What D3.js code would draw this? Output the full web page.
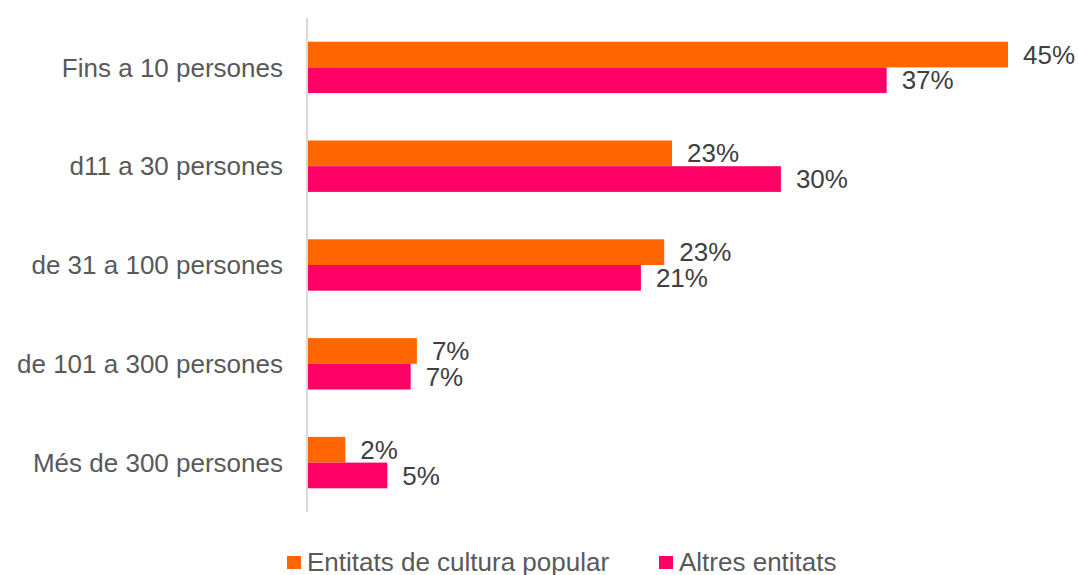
<!DOCTYPE html>
<html>
<head>
<meta charset="utf-8">
<script src="https://cdn.jsdelivr.net/npm/d3@7"></script>
<style>
  body { margin: 0; background: #fff; }
  svg text { font-family: 'Liberation Sans', Arial, sans-serif; }
</style>
</head>
<body>
<div id="chart"></div>
<script>
// categories and series
const categories = ['Fins a 10 persones', 'd11 a 30 persones', 'de 31 a 100 persones', 'de 101 a 300 persones', 'Més de 300 persones']
const seriesNames = ['Entitats de cultura popular', 'Altres entitats']
const popular = [45, 23.4, 22.9, 7.0, 2.4]
const altres = [37.2, 30.4, 21.4, 6.6, 5.1]
const colors = ['#ff6600', '#ff0066']

const W = 1078, H = 575
const margin = { top: 18, left: 307, bottom: 63 }

const svg = d3.select('#chart').append('svg').attr('width', W).attr('height', H)

const rows = categories.map((c, i) => ({ cat: c, values: [popular[i], altres[i]] }))

const y = d3.scaleBand().domain(categories).range([margin.top, H - margin.bottom]).paddingInner(0.48).paddingOuter(0.24)
const ySub = d3.scaleBand().domain([0, 1]).range([0, y.bandwidth()])
const x = d3.scaleLinear().domain([0, 45]).range([margin.left + 1, 1008])

// bars
const groups = svg.selectAll('g.row').data(rows).join('g')
  .attr('class', 'row')
  .attr('transform', d => `translate(0,${y(d.cat)})`)

groups.selectAll('rect').data(d => d.values).join('rect')
  .attr('x', x(0))
  .attr('y', (d, i) => ySub(i))
  .attr('width', d => x(d) - x(0))
  .attr('height', ySub.bandwidth())
  .attr('fill', (d, i) => colors[i])

groups.selectAll('text.val').data(d => d.values).join('text')
  .attr('class', 'val')
  .attr('x', d => x(d) + 15)
  .attr('y', (d, i) => ySub(i) + ySub.bandwidth() / 2)
  .attr('dy', '0.35em')
  .attr('font-size', '26px')
  .attr('fill', '#404040')
  .text(d => Math.round(d) + '%')

// y axis line
svg.append('line')
  .attr('x1', margin.left).attr('x2', margin.left)
  .attr('y1', margin.top).attr('y2', H - margin.bottom)
  .attr('stroke', '#d9d9d9').attr('stroke-width', 2)

// category labels
svg.selectAll('text.cat').data(categories).join('text')
  .attr('class', 'cat')
  .attr('x', 283)
  .attr('y', d => y(d) + y.bandwidth() / 2)
  .attr('dy', '0.35em')
  .attr('text-anchor', 'end')
  .attr('font-size', '26px')
  .attr('fill', '#595959')
  .text(d => d)

// legend
const legendX = [287, 659]
const legend = svg.selectAll('g.legend').data(seriesNames).join('g')
  .attr('class', 'legend')
  .attr('transform', (d, i) => `translate(${legendX[i]},0)`)
legend.append('rect').attr('x', 0).attr('y', 556).attr('width', 14).attr('height', 13)
  .attr('fill', (d, i) => colors[i])
legend.append('text').attr('x', 20).attr('y', 571)
  .attr('font-size', '26px').attr('fill', '#595959')
  .text(d => d)
</script>
</body>
</html>
